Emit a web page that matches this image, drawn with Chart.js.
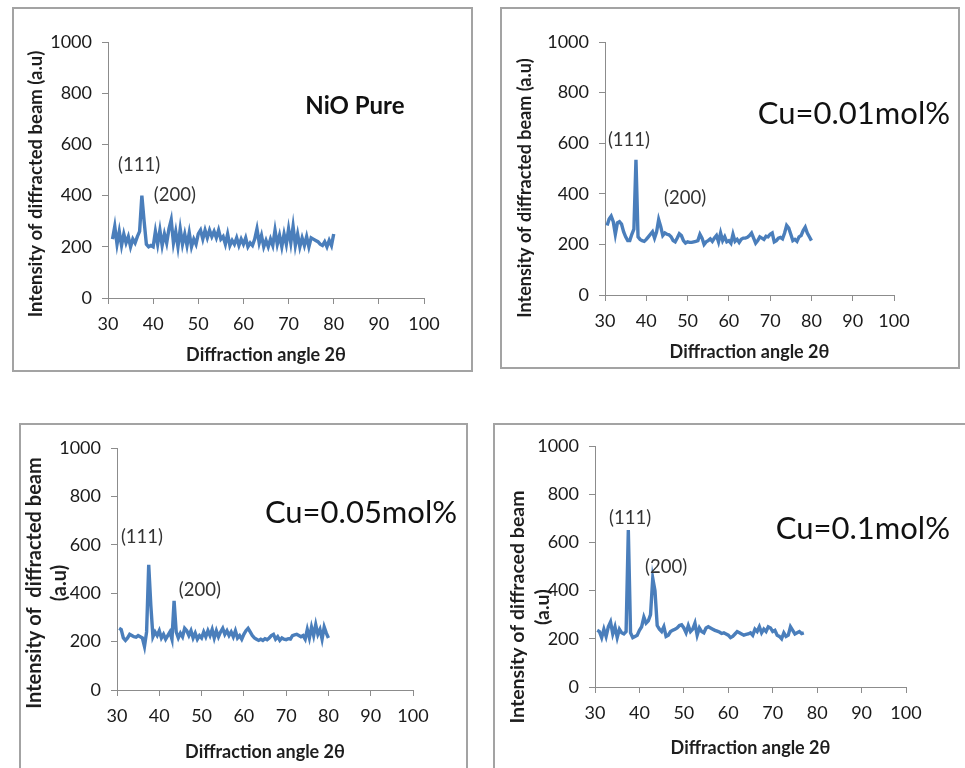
<!DOCTYPE html>
<html>
<head>
<meta charset="utf-8">
<script src="https://cdn.jsdelivr.net/npm/chart.js@4.4.0/dist/chart.umd.min.js"></script>
<style>
body { margin: 0; background: #fff; overflow: hidden; width: 965px; height: 768px; position: relative; }
canvas { position: absolute; }
</style>
</head>
<body>
<canvas id="nio" width="461" height="365" style="left:12px;top:7px"></canvas>
<canvas id="cu01" width="460" height="362" style="left:500px;top:7px"></canvas>
<canvas id="cu05" width="449" height="360" style="left:19px;top:423px"></canvas>
<canvas id="cu1" width="480" height="360" style="left:493px;top:423px"></canvas>
<script>
// XRD patterns (2theta in degrees, intensity in a.u)
var nioAngle = [31,31.5,32,32.5,33,33.5,34,34.5,35,35.5,36,36.5,37,37.5,38,38.5,39,39.5,40,40.5,
  41,41.5,42,42.5,43,43.5,44,44.5,45,45.5,46,46.5,47,47.5,48,48.5,49,49.5,50,50.5,
  51,51.5,52,52.5,53,53.5,54,54.5,55,55.5,56,56.5,57,57.5,58,58.5,59,59.5,60,60.5,
  61,61.5,62,62.5,63,63.5,64,64.5,65,65.5,66,66.5,67,67.5,68,68.5,69,69.5,70,70.5,
  71,71.5,72,72.5,73,73.5,74,74.5,75,75.5,76,76.5,77,77.5,78,78.5,79,79.5,80];
var nioIntensity = [230,280,210,260,205,250,215,240,200,230,215,240,260,400,300,210,200,205,200,260,
  210,265,205,250,215,270,305,215,260,200,270,210,250,205,255,200,230,210,250,265,
  230,265,235,265,240,260,235,265,230,240,210,250,205,225,210,235,205,230,210,235,
  200,215,205,230,270,215,245,200,225,200,230,205,265,210,245,200,250,210,270,215,
  280,205,250,200,235,205,240,200,235,230,225,220,210,205,220,200,225,205,250];

var cu01Angle = [30.5,31,31.5,32,32.5,33,33.5,34,34.5,35,35.5,36,36.5,37,37.5,38,38.5,39,39.5,40,
  40.5,41,41.5,42,42.5,43,43.5,44,44.5,45,45.5,46,46.5,47,47.5,48,48.5,49,49.5,50,
  50.5,51,51.5,52,52.5,53,53.5,54,54.5,55,55.5,56,56.5,57,57.5,58,58.5,59,59.5,60,
  60.5,61,61.5,62,62.5,63,63.5,64,64.5,65,65.5,66,66.5,67,67.5,68,68.5,69,69.5,70,
  70.5,71,71.5,72,72.5,73,73.5,74,74.5,75,75.5,76,76.5,77,77.5,78,78.5,79,79.5,80];
var cu01Intensity = [275,300,312,290,240,285,290,280,250,230,215,215,240,260,534,230,220,215,212,220,
  230,240,250,225,250,298,270,235,245,240,238,230,215,210,225,242,235,215,205,210,
  208,208,210,212,215,240,225,200,210,215,222,212,225,235,210,245,215,230,210,215,
  205,240,212,220,208,220,225,225,228,235,245,225,205,215,230,225,220,232,230,240,
  245,210,215,225,228,222,245,275,265,240,215,220,212,230,235,255,268,245,230,215];

var cu05Angle = cu01Angle.slice();
var cu05Intensity = [255,250,215,205,215,230,225,220,218,225,220,215,180,240,517,350,220,240,225,245,
  215,230,210,225,240,210,368,240,215,235,220,255,245,225,245,215,235,210,225,215,
  240,220,245,225,250,215,245,220,240,255,230,245,225,240,220,245,215,225,210,230,
  245,255,240,225,215,210,205,210,205,212,208,215,225,230,210,220,205,215,210,208,
  212,210,225,228,230,225,220,225,210,250,215,260,225,270,230,250,210,260,235,215];

var cu1Angle = [30.5,31,31.5,32,32.5,33,33.5,34,34.5,35,35.5,36,36.5,37,37.5,38,38.5,39,39.5,40,
  40.5,41,41.5,42,42.5,43,43.5,44,44.5,45,45.5,46,46.5,47,47.5,48,48.5,49,49.5,50,
  50.5,51,51.5,52,52.5,53,53.5,54,54.5,55,55.5,56,56.5,57,57.5,58,58.5,59,59.5,60,
  60.5,61,61.5,62,62.5,63,63.5,64,64.5,65,65.5,66,66.5,67,67.5,68,68.5,69,69.5,70,
  70.5,71,71.5,72,72.5,73,73.5,74,74.5,75,75.5,76,76.5,77];
var cu1Intensity = [235,230,205,240,210,250,270,220,250,205,240,225,220,230,651,225,205,210,215,235,
  250,290,265,275,300,451,400,255,240,230,250,210,215,230,235,240,245,255,258,245,
  225,255,230,240,265,215,245,230,225,245,250,245,240,235,232,228,222,225,220,215,
  205,210,220,230,225,220,215,218,220,225,215,240,230,250,225,240,230,250,245,230,
  235,215,210,200,225,210,215,250,235,220,225,230,222,225];

var fontFamily = 'Lato, "Open Sans", sans-serif';
var lineBlue = '#4a7ebb';
var axisGrey = '#8c8c8c';

//Draws the frame, the rotated y title and the peak / sample labels
var panelText = {
  id: 'panelText',
  afterDraw: function(chart) {
    var o = chart.options.plugins.panelText;
    var ctx = chart.ctx;
    ctx.save();
    ctx.strokeStyle = '#a3a3a3';
    ctx.lineWidth = 2;
    ctx.strokeRect(1, 1, chart.width - 2, chart.height - 2);

    ctx.fillStyle = '#1e1e1e';
    ctx.textAlign = 'center';
    ctx.textBaseline = 'middle';
    ctx.font = 'bold ' + o.yTitleSize + 'px ' + fontFamily;
    o.yTitle.forEach(function(line, i) {
      ctx.save();
      ctx.translate(o.yTitleX[i], o.yTitleY);
      ctx.rotate(-Math.PI / 2);
      ctx.fillText(line, 0, 0);
      ctx.restore();
    });

    o.notes.forEach(function(n) {
      ctx.font = n.font;
      ctx.fillStyle = n.color;
      ctx.fillText(n.text, chart.scales.x.getPixelForValue(n.angle), chart.scales.y.getPixelForValue(n.value));
    });
    ctx.restore();
  }
};

var createPanel = function(canvasId, angles, intensities, p) {
  var canvas = document.getElementById(canvasId);
  var points = [];
  for (var i = 0; i < angles.length; i++) {
    points.push({x: angles[i], y: intensities[i]});
  }
  return new Chart(canvas.getContext('2d'), {
    type: 'line',
    data: {
      datasets: [{
        data: points,
        borderColor: lineBlue,
        borderWidth: 3.4,
        pointRadius: 0,
        tension: 0,
        fill: false
      }]
    },
    options: {
      responsive: false,
      animation: false,
      devicePixelRatio: 1,
      layout: {
        padding: {top: p.area[1], right: canvas.width - p.area[2], bottom: 0, left: 0}
      },
      plugins: {
        legend: {display: false},
        tooltip: {enabled: false},
        panelText: {
          yTitle: p.yTitle,
          yTitleX: p.yTitleX,
          yTitleY: p.yTitleY,
          yTitleSize: p.yTitleSize,
          notes: p.notes
        }
      },
      scales: {
        x: {
          type: 'linear',
          min: 30,
          max: 100,
          afterFit: function(scale) { scale.height = canvas.height - p.area[3]; },
          ticks: {stepSize: 10, padding: 9, color: '#1a1a1a', font: {family: fontFamily, size: 18}},
          grid: {drawOnChartArea: false, drawTicks: true, tickLength: 6, color: axisGrey},
          border: {color: axisGrey, width: 1},
          title: {
            display: true,
            text: 'Diffraction angle 2θ',
            color: '#1e1e1e',
            font: {family: fontFamily, size: 18, weight: 'bold'},
            padding: {top: 0, bottom: p.xTitlePad}
          }
        },
        y: {
          min: 0,
          max: 1000,
          afterFit: function(scale) { scale.width = p.area[0]; },
          ticks: {
            stepSize: 200,
            padding: 10,
            color: '#1a1a1a',
            font: {family: fontFamily, size: 18},
            callback: function(value) { return String(value); }
          },
          grid: {drawOnChartArea: false, drawTicks: true, tickLength: 6, color: axisGrey},
          border: {color: axisGrey, width: 1}
        }
      }
    },
    plugins: [panelText]
  });
}

var peakFont = '18.5px ' + fontFamily;
var peakColor = '#333333';

createPanel('nio', nioAngle, nioIntensity, {
  area: [96, 35, 412, 291],
  xTitlePad: 6,
  yTitle: ['Intensity of diffracted beam (a.u)'],
  yTitleX: [24],
  yTitleY: 177,
  yTitleSize: 18.5,
  notes: [
    {text: '(111)', angle: 36.9, value: 520, font: peakFont, color: peakColor},
    {text: '(200)', angle: 44.8, value: 402, font: peakFont, color: peakColor},
    {text: 'NiO Pure', angle: 84.7, value: 750, font: 'bold 24px ' + fontFamily, color: '#111111'}
  ]
});

createPanel('cu01', cu01Angle, cu01Intensity, {
  area: [105, 35, 394, 288],
  xTitlePad: 6,
  yTitle: ['Intensity of diffracted beam (a.u)'],
  yTitleX: [25],
  yTitleY: 181,
  yTitleSize: 18,
  notes: [
    {text: '(111)', angle: 35.8, value: 613, font: peakFont, color: peakColor},
    {text: '(200)', angle: 49.4, value: 383, font: peakFont, color: peakColor},
    {text: 'Cu=0.01mol%', angle: 90.3, value: 715, font: '31px ' + fontFamily, color: '#111111'}
  ]
});

createPanel('cu05', cu05Angle, cu05Intensity, {
  area: [98, 25, 394, 267],
  xTitlePad: 20,
  yTitle: ['Intensity of  diffracted beam', '(a.u)'],
  yTitleX: [16, 41],
  yTitleY: 160,
  yTitleSize: 20,
  notes: [
    {text: '(111)', angle: 35.9, value: 632, font: peakFont, color: peakColor},
    {text: '(200)', angle: 49.6, value: 413, font: peakFont, color: peakColor},
    {text: 'Cu=0.05mol%', angle: 87.7, value: 731, font: '31px ' + fontFamily, color: '#111111'}
  ]
});

createPanel('cu1', cu1Angle, cu1Intensity, {
  area: [102, 23, 413, 264],
  xTitlePad: 24,
  yTitle: ['Intensity of diffraced beam', '(a.u)'],
  yTitleX: [25, 50],
  yTitleY: 184,
  yTitleSize: 19.5,
  notes: [
    {text: '(111)', angle: 37.9, value: 701, font: peakFont, color: peakColor},
    {text: '(200)', angle: 46.0, value: 498, font: peakFont, color: peakColor},
    {text: 'Cu=0.1mol%', angle: 90.3, value: 656, font: '31px ' + fontFamily, color: '#111111'}
  ]
});
</script>
</body>
</html>
